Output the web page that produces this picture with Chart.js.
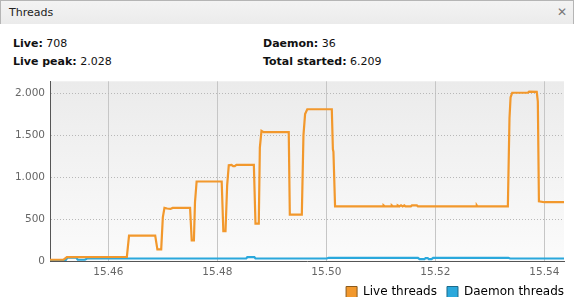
<!DOCTYPE html>
<html>
<head>
<meta charset="utf-8">
<script src="https://cdn.jsdelivr.net/npm/chart.js@4/dist/chart.umd.min.js"></script>
<style>
  body { margin: 0; background: #fff; font-family: "DejaVu Sans", sans-serif; overflow: hidden; }
  .header {
    position: absolute; left: 0; top: 0; width: 572px; height: 23px;
    background: linear-gradient(#f3f3f3, #ebebeb);
    border: 1px solid #b5b5b5; border-bottom: none;
    font-size: 11px; color: #222;
  }
  .header .title { position: absolute; left: 8px; top: 5px; }
  .header .close { position: absolute; right: 6px; top: 4px; color: #777; font-size: 12px; }
  .stat { position: absolute; font-size: 11px; color: #111; }
  .stat b { font-weight: bold; }
  #wrap { position: absolute; left: 0; top: 70px; width: 574px; height: 238px; }
</style>
</head>
<body>
<div class="header"><span class="title">Threads</span><span class="close">✕</span></div>
<div class="stat" style="left:13px; top:37px;"><b>Live:</b> 708</div>
<div class="stat" style="left:13px; top:55px;"><b>Live peak:</b> 2.028</div>
<div class="stat" style="left:263px; top:37px;"><b>Daemon:</b> 36</div>
<div class="stat" style="left:263px; top:55px;"><b>Total started:</b> 6.209</div>
<div id="wrap"><canvas id="myChart" width="574" height="238"></canvas></div>
<script>
const liveTimes = [
    15.4493, 15.4518, 15.4524, 15.4634, 15.4638, 15.4686, 15.4690, 15.4697, 15.4700, 15.4703,
    15.4708, 15.4714, 15.4718, 15.4750, 15.4753, 15.4757, 15.4759, 15.4762, 15.4808, 15.4811,
    15.4815, 15.4818, 15.4821, 15.4826, 15.4829, 15.4832, 15.4835, 15.4867, 15.4870, 15.4876,
    15.4878, 15.4881, 15.4885, 15.4931, 15.4933, 15.4955, 15.4958, 15.4961, 15.4965, 15.5010,
    15.5012, 15.5013, 15.5016, 15.5104, 15.5105, 15.5107, 15.5119, 15.5120, 15.5122, 15.5130,
    15.5131, 15.5134, 15.5137, 15.5140, 15.5143, 15.5145, 15.5155, 15.5157, 15.5166, 15.5168,
    15.5275, 15.5276, 15.5277, 15.5333, 15.5336, 15.5338, 15.5341, 15.5370, 15.5372, 15.5386,
    15.5388, 15.5390, 15.5400, 15.5436
];
const liveThreads = [
    15, 15, 45, 48, 302, 302, 138, 138, 520, 632,
    625, 620, 632, 632, 245, 245, 700, 947, 947, 355,
    355, 900, 1140, 1145, 1130, 1130, 1145, 1145, 446, 446,
    1350, 1550, 1535, 1535, 552, 552, 1500, 1750, 1807, 1807,
    1330, 1300, 650, 650, 662, 650, 650, 662, 650, 650,
    662, 650, 662, 650, 662, 650, 650, 662, 662, 650,
    650, 660, 650, 650, 1700, 1950, 2004, 2006, 2018, 2015,
    1900, 712, 700, 700
];
const daemonTimes = [
    15.4493, 15.4522, 15.4525, 15.4541, 15.4544, 15.4557, 15.4561, 15.4853, 15.4855, 15.4868,
    15.4870, 15.5001, 15.5004, 15.5168, 15.5171, 15.5180, 15.5182, 15.5186, 15.5188, 15.5193,
    15.5196, 15.5334, 15.5337, 15.5436
];
const daemonThreads = [
    12, 12, 40, 40, 15, 15, 30, 30, 45, 45,
    30, 30, 38, 38, 22, 22, 35, 35, 22, 22,
    38, 38, 30, 30
];
const xTicks = [15.46, 15.48, 15.50, 15.52, 15.54];
const yTicks = [0, 500, 1000, 1500, 2000];

function toPoints (times, values) {
    return times.map((t, i) => ({ x: t, y: values[i] }));
}

const plotBackground = {
    id: 'plotBackground',
    beforeDraw (chart) {
        const { ctx, chartArea: a } = chart;
        const g = ctx.createLinearGradient(0, a.top, 0, a.bottom);
        g.addColorStop(0, '#ebebeb');
        g.addColorStop(1, '#fbfbfb');
        ctx.save();
        ctx.fillStyle = g;
        ctx.fillRect(a.left, a.top, a.right - a.left, a.bottom - a.top);
        ctx.restore();
    }
};

const tickFont = { family: 'DejaVu Sans', size: 10.5 };

const config = {
    type: 'line',
    data: {
        datasets: [{
            label: 'Live threads',
            data: toPoints(liveTimes, liveThreads),
            borderColor: '#f2982c',
            backgroundColor: '#f2982c',
            borderWidth: 2.2,
            pointRadius: 0,
            tension: 0
        }, {
            label: 'Daemon threads',
            data: toPoints(daemonTimes, daemonThreads),
            borderColor: '#2aa8dc',
            backgroundColor: '#2aa8dc',
            borderWidth: 2.2,
            pointRadius: 0,
            tension: 0
        }]
    },
    options: {
        responsive: false,
        animation: false,
        layout: { padding: { top: 9, right: 0, left: 0, bottom: 0 } },
        scales: {
            x: {
                type: 'linear',
                min: 15.4493,
                max: 15.5436,
                afterBuildTicks: axis => { axis.ticks = xTicks.map(v => ({ value: v })); },
                afterFit: axis => { axis.height = 15; },
                ticks: {
                    font: tickFont,
                    color: '#666',
                    padding: 5,
                    maxRotation: 0,
                    callback: v => v.toFixed(2)
                },
                grid: { color: '#c6c6c6', drawTicks: false },
                border: { color: '#555', width: 1 }
            },
            y: {
                min: 0,
                max: 2140,
                afterBuildTicks: axis => { axis.ticks = yTicks.map(v => ({ value: v })); },
                afterFit: axis => { axis.width = 50; },
                ticks: {
                    font: tickFont,
                    color: '#666',
                    padding: 5,
                    callback: v => v.toLocaleString('de-DE')
                },
                grid: { color: '#b8b8b8', drawTicks: false },
                border: { color: '#555', width: 1, dash: [1, 2] }
            },
            // empty right axis, only keeps a 10px margin right of the plot
            spacer: {
                position: 'right',
                afterFit: axis => { axis.width = 10; },
                ticks: { display: false },
                grid: { display: false, drawTicks: false },
                border: { display: false }
            }
        },
        plugins: {
            tooltip: { enabled: false },
            legend: {
                position: 'bottom',
                align: 'end',
                labels: {
                    font: { family: 'DejaVu Sans', size: 12 },
                    color: '#111',
                    boxWidth: 11,
                    boxHeight: 11,
                    padding: 10,
                    generateLabels: chart => chart.data.datasets.map((ds, i) => ({
                        text: ds.label,
                        fillStyle: ds.backgroundColor,
                        strokeStyle: i === 0 ? '#8a5a1c' : '#1c6a8a',
                        lineWidth: 1,
                        datasetIndex: i
                    }))
                }
            }
        }
    },
    plugins: [plotBackground]
};

const myChart = new Chart(document.getElementById('myChart'), config);
</script>
</body>
</html>
